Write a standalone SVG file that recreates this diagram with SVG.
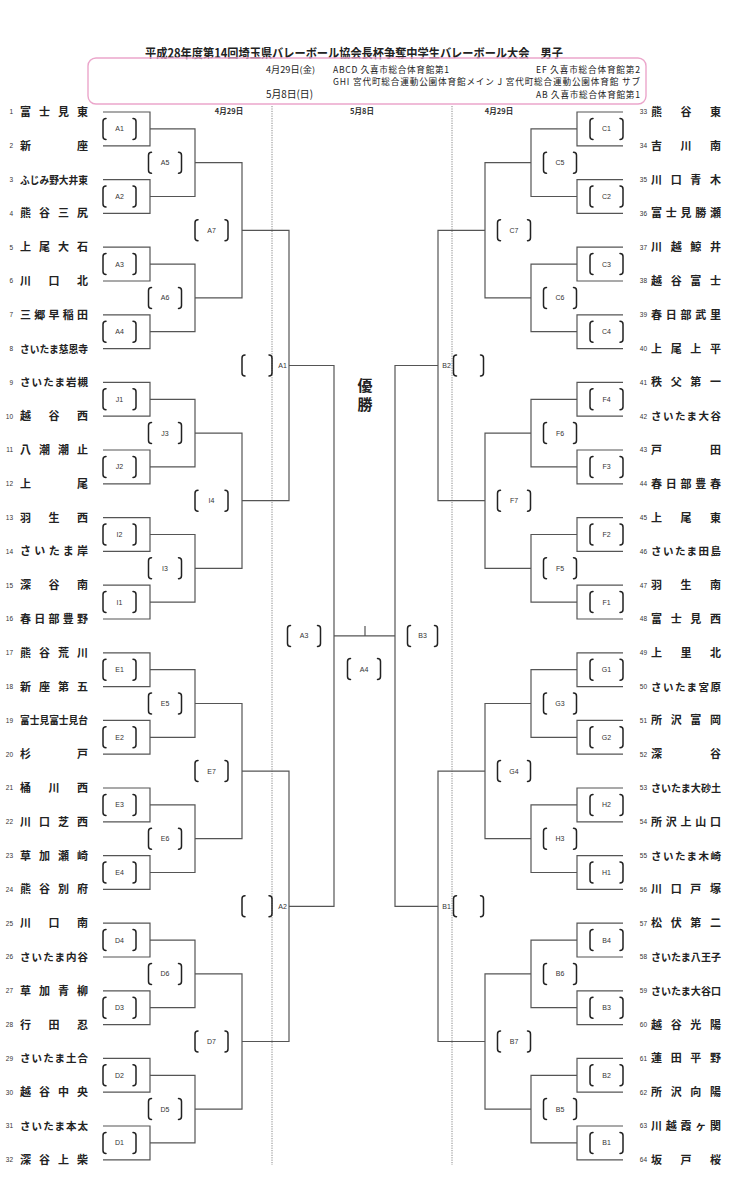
<svg xmlns="http://www.w3.org/2000/svg" xmlns:xlink="http://www.w3.org/1999/xlink" width="734" height="1200" viewBox="0 0 734 1200">
<style>
.bg{fill:#fff}
.ln{fill:none;stroke:#555;stroke-width:1.2}
.dot{fill:none;stroke:#888;stroke-width:1;stroke-dasharray:1.2 1.2}
.br{fill:none;stroke:#222;stroke-width:1.5;stroke-linecap:round}
.nm{font-family:"Noto Sans CJK JP","Noto Sans CJK SC",sans-serif;font-size:11px;font-weight:bold;fill:#222}
.nm6{font-size:10.5px}
.no{font-family:"Liberation Sans",sans-serif;font-size:6.5px;fill:#333}
.lb{font-family:"Liberation Sans",sans-serif;font-size:7px;fill:#333;text-anchor:middle}
.hd{font-family:"Noto Sans CJK JP","Noto Sans CJK SC",sans-serif;fill:#222}
.dt{font-family:"Noto Sans CJK JP",sans-serif;font-size:7.5px;font-weight:bold;fill:#333;text-anchor:middle}
</style>
<defs>
<path id="br" class="br" d="M-13.5 -10.5Q-16.5 -10.5 -16.5 -7.5V7.5Q-16.5 10.5 -13.5 10.5M13.5 -10.5Q16.5 -10.5 16.5 -7.5V7.5Q16.5 10.5 13.5 10.5"/>
<path id="brs" class="br" d="M-12 -10.5Q-15 -10.5 -15 -7.5V7.5Q-15 10.5 -12 10.5M12 -10.5Q15 -10.5 15 -7.5V7.5Q15 10.5 12 10.5"/>
</defs>
<rect class="bg" x="0" y="0" width="734" height="1200"/>

<g id="header">
<text class="hd" x="145" y="57.5" font-size="12.5" font-weight="bold" textLength="418" lengthAdjust="spacingAndGlyphs">平成28年度第14回埼玉県バレーボール協会長杯争奪中学生バレーボール大会　男子</text>
<rect x="88" y="58" width="558" height="46" rx="8" fill="none" stroke="#eba6cb" stroke-width="1.4"/>
<text class="hd" x="266" y="72.5" font-size="8.6" textLength="49" lengthAdjust="spacingAndGlyphs">4月29日(金)</text>
<text class="hd" x="333" y="72.5" font-size="8.6" textLength="116" lengthAdjust="spacing">ABCD 久喜市総合体育館第1</text>
<text class="hd" x="536" y="72.5" font-size="8.6" textLength="104" lengthAdjust="spacing">EF 久喜市総合体育館第2</text>
<text class="hd" x="333" y="85" font-size="8.6" textLength="307" lengthAdjust="spacing">GHI 宮代町総合運動公園体育館メイン J 宮代町総合運動公園体育館 サブ</text>
<text class="hd" x="266" y="97.5" font-size="10.5" textLength="47" lengthAdjust="spacingAndGlyphs">5月8日(日)</text>
<text class="hd" x="536" y="97.5" font-size="8.6" textLength="104" lengthAdjust="spacing">AB 久喜市総合体育館第1</text>
<text class="dt" x="229" y="114">4月29日</text>
<text class="dt" x="362" y="114">5月8日</text>
<text class="dt" x="499" y="114">4月29日</text>
<text class="hd" x="365" y="391" font-size="15" font-weight="bold" text-anchor="middle">優</text>
<text class="hd" x="365" y="410" font-size="15" font-weight="bold" text-anchor="middle">勝</text>
<path class="dot" d="M272 106V1165M452 106V1165"/>
</g>

<g id="connectors" class="ln">
<path d="M103 112H150V145.8H103M103 179.6H150V213.4H103M103 247.2H150V281H103M103 314.8H150V348.6H103M103 382.4H150V416.2H103M103 450H150V483.8H103M103 517.6H150V551.4H103M103 585.2H150V619H103M103 652.8H150V686.6H103M103 720.4H150V754.2H103M103 788H150V821.8H103M103 855.6H150V889.4H103M103 923.2H150V957H103M103 990.8H150V1024.6H103M103 1058.4H150V1092.2H103M103 1126H150V1159.8H103"/>
<path d="M150 128.9H195V196.5H150M150 264.1H195V331.7H150M150 399.3H195V466.9H150M150 534.5H195V602.1H150M150 669.7H195V737.3H150M150 804.9H195V872.5H150M150 940.1H195V1007.7H150M150 1075.3H195V1142.9H150"/>
<path d="M195 162.7H242V297.9H195M195 433.1H242V568.3H195M195 703.5H242V838.7H195M195 973.9H242V1109.1H195"/>
<path d="M242 230.3H289V500.7H242M242 771.1H289V1041.5H242"/>
<path d="M289 365.5H334V906.3H289"/>
<path d="M623 112H577V145.8H623M623 179.6H577V213.4H623M623 247.2H577V281H623M623 314.8H577V348.6H623M623 382.4H577V416.2H623M623 450H577V483.8H623M623 517.6H577V551.4H623M623 585.2H577V619H623M623 652.8H577V686.6H623M623 720.4H577V754.2H623M623 788H577V821.8H623M623 855.6H577V889.4H623M623 923.2H577V957H623M623 990.8H577V1024.6H623M623 1058.4H577V1092.2H623M623 1126H577V1159.8H623"/>
<path d="M577 128.9H531V196.5H577M577 264.1H531V331.7H577M577 399.3H531V466.9H577M577 534.5H531V602.1H577M577 669.7H531V737.3H577M577 804.9H531V872.5H577M577 940.1H531V1007.7H577M577 1075.3H531V1142.9H577"/>
<path d="M531 162.7H485V297.9H531M531 433.1H485V568.3H531M531 703.5H485V838.7H531M531 973.9H485V1109.1H531"/>
<path d="M485 230.3H438V500.7H485M485 771.1H438V1041.5H485"/>
<path d="M438 365.5H395V906.3H438"/>
<path d="M334 635.9H395M365 635.9V626"/>
</g>

<g id="teams-left">
<g id="team-1" transform="translate(0 112)"><text class="no" x="13" y="2.3" text-anchor="end">1</text><text class="nm" x="20" y="4" textLength="68" lengthAdjust="spacing">富士見東</text></g>
<g id="team-2" transform="translate(0 145.8)"><text class="no" x="13" y="2.3" text-anchor="end">2</text><text class="nm" x="20" y="4" textLength="68" lengthAdjust="spacing">新座</text></g>
<g id="team-3" transform="translate(0 179.6)"><text class="no" x="13" y="2.3" text-anchor="end">3</text><text class="nm nm6" x="20" y="4" textLength="68" lengthAdjust="spacingAndGlyphs">ふじみ野大井東</text></g>
<g id="team-4" transform="translate(0 213.4)"><text class="no" x="13" y="2.3" text-anchor="end">4</text><text class="nm" x="20" y="4" textLength="68" lengthAdjust="spacing">熊谷三尻</text></g>
<g id="team-5" transform="translate(0 247.2)"><text class="no" x="13" y="2.3" text-anchor="end">5</text><text class="nm" x="20" y="4" textLength="68" lengthAdjust="spacing">上尾大石</text></g>
<g id="team-6" transform="translate(0 281)"><text class="no" x="13" y="2.3" text-anchor="end">6</text><text class="nm" x="20" y="4" textLength="68" lengthAdjust="spacing">川口北</text></g>
<g id="team-7" transform="translate(0 314.8)"><text class="no" x="13" y="2.3" text-anchor="end">7</text><text class="nm" x="20" y="4" textLength="68" lengthAdjust="spacing">三郷早稲田</text></g>
<g id="team-8" transform="translate(0 348.6)"><text class="no" x="13" y="2.3" text-anchor="end">8</text><text class="nm nm6" x="20" y="4" textLength="68" lengthAdjust="spacingAndGlyphs">さいたま慈恩寺</text></g>
<g id="team-9" transform="translate(0 382.4)"><text class="no" x="13" y="2.3" text-anchor="end">9</text><text class="nm nm6" x="20" y="4" textLength="68" lengthAdjust="spacing">さいたま岩槻</text></g>
<g id="team-10" transform="translate(0 416.2)"><text class="no" x="13" y="2.3" text-anchor="end">10</text><text class="nm" x="20" y="4" textLength="68" lengthAdjust="spacing">越谷西</text></g>
<g id="team-11" transform="translate(0 450)"><text class="no" x="13" y="2.3" text-anchor="end">11</text><text class="nm" x="20" y="4" textLength="68" lengthAdjust="spacing">八潮潮止</text></g>
<g id="team-12" transform="translate(0 483.8)"><text class="no" x="13" y="2.3" text-anchor="end">12</text><text class="nm" x="20" y="4" textLength="68" lengthAdjust="spacing">上尾</text></g>
<g id="team-13" transform="translate(0 517.6)"><text class="no" x="13" y="2.3" text-anchor="end">13</text><text class="nm" x="20" y="4" textLength="68" lengthAdjust="spacing">羽生西</text></g>
<g id="team-14" transform="translate(0 551.4)"><text class="no" x="13" y="2.3" text-anchor="end">14</text><text class="nm" x="20" y="4" textLength="68" lengthAdjust="spacing">さいたま岸</text></g>
<g id="team-15" transform="translate(0 585.2)"><text class="no" x="13" y="2.3" text-anchor="end">15</text><text class="nm" x="20" y="4" textLength="68" lengthAdjust="spacing">深谷南</text></g>
<g id="team-16" transform="translate(0 619)"><text class="no" x="13" y="2.3" text-anchor="end">16</text><text class="nm" x="20" y="4" textLength="68" lengthAdjust="spacing">春日部豊野</text></g>
<g id="team-17" transform="translate(0 652.8)"><text class="no" x="13" y="2.3" text-anchor="end">17</text><text class="nm" x="20" y="4" textLength="68" lengthAdjust="spacing">熊谷荒川</text></g>
<g id="team-18" transform="translate(0 686.6)"><text class="no" x="13" y="2.3" text-anchor="end">18</text><text class="nm" x="20" y="4" textLength="68" lengthAdjust="spacing">新座第五</text></g>
<g id="team-19" transform="translate(0 720.4)"><text class="no" x="13" y="2.3" text-anchor="end">19</text><text class="nm nm6" x="20" y="4" textLength="68" lengthAdjust="spacingAndGlyphs">富士見富士見台</text></g>
<g id="team-20" transform="translate(0 754.2)"><text class="no" x="13" y="2.3" text-anchor="end">20</text><text class="nm" x="20" y="4" textLength="68" lengthAdjust="spacing">杉戸</text></g>
<g id="team-21" transform="translate(0 788)"><text class="no" x="13" y="2.3" text-anchor="end">21</text><text class="nm" x="20" y="4" textLength="68" lengthAdjust="spacing">桶川西</text></g>
<g id="team-22" transform="translate(0 821.8)"><text class="no" x="13" y="2.3" text-anchor="end">22</text><text class="nm" x="20" y="4" textLength="68" lengthAdjust="spacing">川口芝西</text></g>
<g id="team-23" transform="translate(0 855.6)"><text class="no" x="13" y="2.3" text-anchor="end">23</text><text class="nm" x="20" y="4" textLength="68" lengthAdjust="spacing">草加瀬崎</text></g>
<g id="team-24" transform="translate(0 889.4)"><text class="no" x="13" y="2.3" text-anchor="end">24</text><text class="nm" x="20" y="4" textLength="68" lengthAdjust="spacing">熊谷別府</text></g>
<g id="team-25" transform="translate(0 923.2)"><text class="no" x="13" y="2.3" text-anchor="end">25</text><text class="nm" x="20" y="4" textLength="68" lengthAdjust="spacing">川口南</text></g>
<g id="team-26" transform="translate(0 957)"><text class="no" x="13" y="2.3" text-anchor="end">26</text><text class="nm nm6" x="20" y="4" textLength="68" lengthAdjust="spacing">さいたま内谷</text></g>
<g id="team-27" transform="translate(0 990.8)"><text class="no" x="13" y="2.3" text-anchor="end">27</text><text class="nm" x="20" y="4" textLength="68" lengthAdjust="spacing">草加青柳</text></g>
<g id="team-28" transform="translate(0 1024.6)"><text class="no" x="13" y="2.3" text-anchor="end">28</text><text class="nm" x="20" y="4" textLength="68" lengthAdjust="spacing">行田忍</text></g>
<g id="team-29" transform="translate(0 1058.4)"><text class="no" x="13" y="2.3" text-anchor="end">29</text><text class="nm nm6" x="20" y="4" textLength="68" lengthAdjust="spacing">さいたま土合</text></g>
<g id="team-30" transform="translate(0 1092.2)"><text class="no" x="13" y="2.3" text-anchor="end">30</text><text class="nm" x="20" y="4" textLength="68" lengthAdjust="spacing">越谷中央</text></g>
<g id="team-31" transform="translate(0 1126)"><text class="no" x="13" y="2.3" text-anchor="end">31</text><text class="nm nm6" x="20" y="4" textLength="68" lengthAdjust="spacing">さいたま本太</text></g>
<g id="team-32" transform="translate(0 1159.8)"><text class="no" x="13" y="2.3" text-anchor="end">32</text><text class="nm" x="20" y="4" textLength="68" lengthAdjust="spacing">深谷上柴</text></g>
</g>

<g id="teams-right">
<g id="team-33" transform="translate(0 112)"><text class="no" x="647" y="2.3" text-anchor="end">33</text><text class="nm" x="651" y="4" textLength="70" lengthAdjust="spacing">熊谷東</text></g>
<g id="team-34" transform="translate(0 145.8)"><text class="no" x="647" y="2.3" text-anchor="end">34</text><text class="nm" x="651" y="4" textLength="70" lengthAdjust="spacing">吉川南</text></g>
<g id="team-35" transform="translate(0 179.6)"><text class="no" x="647" y="2.3" text-anchor="end">35</text><text class="nm" x="651" y="4" textLength="70" lengthAdjust="spacing">川口青木</text></g>
<g id="team-36" transform="translate(0 213.4)"><text class="no" x="647" y="2.3" text-anchor="end">36</text><text class="nm" x="651" y="4" textLength="70" lengthAdjust="spacing">富士見勝瀬</text></g>
<g id="team-37" transform="translate(0 247.2)"><text class="no" x="647" y="2.3" text-anchor="end">37</text><text class="nm" x="651" y="4" textLength="70" lengthAdjust="spacing">川越鯨井</text></g>
<g id="team-38" transform="translate(0 281)"><text class="no" x="647" y="2.3" text-anchor="end">38</text><text class="nm" x="651" y="4" textLength="70" lengthAdjust="spacing">越谷富士</text></g>
<g id="team-39" transform="translate(0 314.8)"><text class="no" x="647" y="2.3" text-anchor="end">39</text><text class="nm" x="651" y="4" textLength="70" lengthAdjust="spacing">春日部武里</text></g>
<g id="team-40" transform="translate(0 348.6)"><text class="no" x="647" y="2.3" text-anchor="end">40</text><text class="nm" x="651" y="4" textLength="70" lengthAdjust="spacing">上尾上平</text></g>
<g id="team-41" transform="translate(0 382.4)"><text class="no" x="647" y="2.3" text-anchor="end">41</text><text class="nm" x="651" y="4" textLength="70" lengthAdjust="spacing">秩父第一</text></g>
<g id="team-42" transform="translate(0 416.2)"><text class="no" x="647" y="2.3" text-anchor="end">42</text><text class="nm nm6" x="651" y="4" textLength="70" lengthAdjust="spacing">さいたま大谷</text></g>
<g id="team-43" transform="translate(0 450)"><text class="no" x="647" y="2.3" text-anchor="end">43</text><text class="nm" x="651" y="4" textLength="70" lengthAdjust="spacing">戸田</text></g>
<g id="team-44" transform="translate(0 483.8)"><text class="no" x="647" y="2.3" text-anchor="end">44</text><text class="nm" x="651" y="4" textLength="70" lengthAdjust="spacing">春日部豊春</text></g>
<g id="team-45" transform="translate(0 517.6)"><text class="no" x="647" y="2.3" text-anchor="end">45</text><text class="nm" x="651" y="4" textLength="70" lengthAdjust="spacing">上尾東</text></g>
<g id="team-46" transform="translate(0 551.4)"><text class="no" x="647" y="2.3" text-anchor="end">46</text><text class="nm nm6" x="651" y="4" textLength="70" lengthAdjust="spacing">さいたま田島</text></g>
<g id="team-47" transform="translate(0 585.2)"><text class="no" x="647" y="2.3" text-anchor="end">47</text><text class="nm" x="651" y="4" textLength="70" lengthAdjust="spacing">羽生南</text></g>
<g id="team-48" transform="translate(0 619)"><text class="no" x="647" y="2.3" text-anchor="end">48</text><text class="nm" x="651" y="4" textLength="70" lengthAdjust="spacing">富士見西</text></g>
<g id="team-49" transform="translate(0 652.8)"><text class="no" x="647" y="2.3" text-anchor="end">49</text><text class="nm" x="651" y="4" textLength="70" lengthAdjust="spacing">上里北</text></g>
<g id="team-50" transform="translate(0 686.6)"><text class="no" x="647" y="2.3" text-anchor="end">50</text><text class="nm nm6" x="651" y="4" textLength="70" lengthAdjust="spacing">さいたま宮原</text></g>
<g id="team-51" transform="translate(0 720.4)"><text class="no" x="647" y="2.3" text-anchor="end">51</text><text class="nm" x="651" y="4" textLength="70" lengthAdjust="spacing">所沢富岡</text></g>
<g id="team-52" transform="translate(0 754.2)"><text class="no" x="647" y="2.3" text-anchor="end">52</text><text class="nm" x="651" y="4" textLength="70" lengthAdjust="spacing">深谷</text></g>
<g id="team-53" transform="translate(0 788)"><text class="no" x="647" y="2.3" text-anchor="end">53</text><text class="nm nm6" x="651" y="4" textLength="70" lengthAdjust="spacingAndGlyphs">さいたま大砂土</text></g>
<g id="team-54" transform="translate(0 821.8)"><text class="no" x="647" y="2.3" text-anchor="end">54</text><text class="nm" x="651" y="4" textLength="70" lengthAdjust="spacing">所沢上山口</text></g>
<g id="team-55" transform="translate(0 855.6)"><text class="no" x="647" y="2.3" text-anchor="end">55</text><text class="nm nm6" x="651" y="4" textLength="70" lengthAdjust="spacing">さいたま木崎</text></g>
<g id="team-56" transform="translate(0 889.4)"><text class="no" x="647" y="2.3" text-anchor="end">56</text><text class="nm" x="651" y="4" textLength="70" lengthAdjust="spacing">川口戸塚</text></g>
<g id="team-57" transform="translate(0 923.2)"><text class="no" x="647" y="2.3" text-anchor="end">57</text><text class="nm" x="651" y="4" textLength="70" lengthAdjust="spacing">松伏第二</text></g>
<g id="team-58" transform="translate(0 957)"><text class="no" x="647" y="2.3" text-anchor="end">58</text><text class="nm nm6" x="651" y="4" textLength="70" lengthAdjust="spacingAndGlyphs">さいたま八王子</text></g>
<g id="team-59" transform="translate(0 990.8)"><text class="no" x="647" y="2.3" text-anchor="end">59</text><text class="nm nm6" x="651" y="4" textLength="70" lengthAdjust="spacingAndGlyphs">さいたま大谷口</text></g>
<g id="team-60" transform="translate(0 1024.6)"><text class="no" x="647" y="2.3" text-anchor="end">60</text><text class="nm" x="651" y="4" textLength="70" lengthAdjust="spacing">越谷光陽</text></g>
<g id="team-61" transform="translate(0 1058.4)"><text class="no" x="647" y="2.3" text-anchor="end">61</text><text class="nm" x="651" y="4" textLength="70" lengthAdjust="spacing">蓮田平野</text></g>
<g id="team-62" transform="translate(0 1092.2)"><text class="no" x="647" y="2.3" text-anchor="end">62</text><text class="nm" x="651" y="4" textLength="70" lengthAdjust="spacing">所沢向陽</text></g>
<g id="team-63" transform="translate(0 1126)"><text class="no" x="647" y="2.3" text-anchor="end">63</text><text class="nm" x="651" y="4" textLength="70" lengthAdjust="spacing">川越霞ヶ関</text></g>
<g id="team-64" transform="translate(0 1159.8)"><text class="no" x="647" y="2.3" text-anchor="end">64</text><text class="nm" x="651" y="4" textLength="70" lengthAdjust="spacing">坂戸桜</text></g>
</g>

<g id="matches-left">
<g id="match-A1" transform="translate(119.5 128.9)"><use href="#br"/><text class="lb" y="2.5">A1</text></g>
<g id="match-A2" transform="translate(119.5 196.5)"><use href="#br"/><text class="lb" y="2.5">A2</text></g>
<g id="match-A3" transform="translate(119.5 264.1)"><use href="#br"/><text class="lb" y="2.5">A3</text></g>
<g id="match-A4" transform="translate(119.5 331.7)"><use href="#br"/><text class="lb" y="2.5">A4</text></g>
<g id="match-J1" transform="translate(119.5 399.3)"><use href="#br"/><text class="lb" y="2.5">J1</text></g>
<g id="match-J2" transform="translate(119.5 466.9)"><use href="#br"/><text class="lb" y="2.5">J2</text></g>
<g id="match-I2" transform="translate(119.5 534.5)"><use href="#br"/><text class="lb" y="2.5">I2</text></g>
<g id="match-I1" transform="translate(119.5 602.1)"><use href="#br"/><text class="lb" y="2.5">I1</text></g>
<g id="match-E1" transform="translate(119.5 669.7)"><use href="#br"/><text class="lb" y="2.5">E1</text></g>
<g id="match-E2" transform="translate(119.5 737.3)"><use href="#br"/><text class="lb" y="2.5">E2</text></g>
<g id="match-E3" transform="translate(119.5 804.9)"><use href="#br"/><text class="lb" y="2.5">E3</text></g>
<g id="match-E4" transform="translate(119.5 872.5)"><use href="#br"/><text class="lb" y="2.5">E4</text></g>
<g id="match-D4" transform="translate(119.5 940.1)"><use href="#br"/><text class="lb" y="2.5">D4</text></g>
<g id="match-D3" transform="translate(119.5 1007.7)"><use href="#br"/><text class="lb" y="2.5">D3</text></g>
<g id="match-D2" transform="translate(119.5 1075.3)"><use href="#br"/><text class="lb" y="2.5">D2</text></g>
<g id="match-D1" transform="translate(119.5 1142.9)"><use href="#br"/><text class="lb" y="2.5">D1</text></g>
<g id="match-A5" transform="translate(165 162.7)"><use href="#br"/><text class="lb" y="2.5">A5</text></g>
<g id="match-A6" transform="translate(165 297.9)"><use href="#br"/><text class="lb" y="2.5">A6</text></g>
<g id="match-J3" transform="translate(165 433.1)"><use href="#br"/><text class="lb" y="2.5">J3</text></g>
<g id="match-I3" transform="translate(165 568.3)"><use href="#br"/><text class="lb" y="2.5">I3</text></g>
<g id="match-E5" transform="translate(165 703.5)"><use href="#br"/><text class="lb" y="2.5">E5</text></g>
<g id="match-E6" transform="translate(165 838.7)"><use href="#br"/><text class="lb" y="2.5">E6</text></g>
<g id="match-D6" transform="translate(165 973.9)"><use href="#br"/><text class="lb" y="2.5">D6</text></g>
<g id="match-D5" transform="translate(165 1109.1)"><use href="#br"/><text class="lb" y="2.5">D5</text></g>
<g id="match-A7" transform="translate(211.5 230.3)"><use href="#br"/><text class="lb" y="2.5">A7</text></g>
<g id="match-I4" transform="translate(211.5 500.7)"><use href="#br"/><text class="lb" y="2.5">I4</text></g>
<g id="match-E7" transform="translate(211.5 771.1)"><use href="#br"/><text class="lb" y="2.5">E7</text></g>
<g id="match-D7" transform="translate(211.5 1041.5)"><use href="#br"/><text class="lb" y="2.5">D7</text></g>
<g id="match-semi-A1" transform="translate(257 365.5)"><use href="#brs"/><text class="lb" x="25.5" y="2.5">A1</text></g>
<g id="match-semi-A2" transform="translate(257 906.3)"><use href="#brs"/><text class="lb" x="25.5" y="2.5">A2</text></g>
</g>

<g id="matches-right">
<g id="match-C1" transform="translate(606.5 128.9)"><use href="#br"/><text class="lb" y="2.5">C1</text></g>
<g id="match-C2" transform="translate(606.5 196.5)"><use href="#br"/><text class="lb" y="2.5">C2</text></g>
<g id="match-C3" transform="translate(606.5 264.1)"><use href="#br"/><text class="lb" y="2.5">C3</text></g>
<g id="match-C4" transform="translate(606.5 331.7)"><use href="#br"/><text class="lb" y="2.5">C4</text></g>
<g id="match-F4" transform="translate(606.5 399.3)"><use href="#br"/><text class="lb" y="2.5">F4</text></g>
<g id="match-F3" transform="translate(606.5 466.9)"><use href="#br"/><text class="lb" y="2.5">F3</text></g>
<g id="match-F2" transform="translate(606.5 534.5)"><use href="#br"/><text class="lb" y="2.5">F2</text></g>
<g id="match-F1" transform="translate(606.5 602.1)"><use href="#br"/><text class="lb" y="2.5">F1</text></g>
<g id="match-G1" transform="translate(606.5 669.7)"><use href="#br"/><text class="lb" y="2.5">G1</text></g>
<g id="match-G2" transform="translate(606.5 737.3)"><use href="#br"/><text class="lb" y="2.5">G2</text></g>
<g id="match-H2" transform="translate(606.5 804.9)"><use href="#br"/><text class="lb" y="2.5">H2</text></g>
<g id="match-H1" transform="translate(606.5 872.5)"><use href="#br"/><text class="lb" y="2.5">H1</text></g>
<g id="match-B4" transform="translate(606.5 940.1)"><use href="#br"/><text class="lb" y="2.5">B4</text></g>
<g id="match-B3" transform="translate(606.5 1007.7)"><use href="#br"/><text class="lb" y="2.5">B3</text></g>
<g id="match-B2" transform="translate(606.5 1075.3)"><use href="#br"/><text class="lb" y="2.5">B2</text></g>
<g id="match-B1" transform="translate(606.5 1142.9)"><use href="#br"/><text class="lb" y="2.5">B1</text></g>
<g id="match-C5" transform="translate(560 162.7)"><use href="#br"/><text class="lb" y="2.5">C5</text></g>
<g id="match-C6" transform="translate(560 297.9)"><use href="#br"/><text class="lb" y="2.5">C6</text></g>
<g id="match-F6" transform="translate(560 433.1)"><use href="#br"/><text class="lb" y="2.5">F6</text></g>
<g id="match-F5" transform="translate(560 568.3)"><use href="#br"/><text class="lb" y="2.5">F5</text></g>
<g id="match-G3" transform="translate(560 703.5)"><use href="#br"/><text class="lb" y="2.5">G3</text></g>
<g id="match-H3" transform="translate(560 838.7)"><use href="#br"/><text class="lb" y="2.5">H3</text></g>
<g id="match-B6" transform="translate(560 973.9)"><use href="#br"/><text class="lb" y="2.5">B6</text></g>
<g id="match-B5" transform="translate(560 1109.1)"><use href="#br"/><text class="lb" y="2.5">B5</text></g>
<g id="match-C7" transform="translate(514 230.3)"><use href="#br"/><text class="lb" y="2.5">C7</text></g>
<g id="match-F7" transform="translate(514 500.7)"><use href="#br"/><text class="lb" y="2.5">F7</text></g>
<g id="match-G4" transform="translate(514 771.1)"><use href="#br"/><text class="lb" y="2.5">G4</text></g>
<g id="match-B7" transform="translate(514 1041.5)"><use href="#br"/><text class="lb" y="2.5">B7</text></g>
<g id="match-semi-B2" transform="translate(468.5 365.5)"><use href="#brs"/><text class="lb" x="-22" y="2.5">B2</text></g>
<g id="match-semi-B1" transform="translate(468.5 906.3)"><use href="#brs"/><text class="lb" x="-22" y="2.5">B1</text></g>
</g>

<g id="matches-final">
<g id="match-final-A3" transform="translate(304 635.9)"><use href="#br"/><text class="lb" y="2.5">A3</text></g>
<g id="match-final-B3" transform="translate(422.5 635.9)"><use href="#brs"/><text class="lb" y="2.5">B3</text></g>
<g id="match-final-A4" transform="translate(364 669)"><use href="#br"/><text class="lb" y="2.5">A4</text></g>
</g>
</svg>
